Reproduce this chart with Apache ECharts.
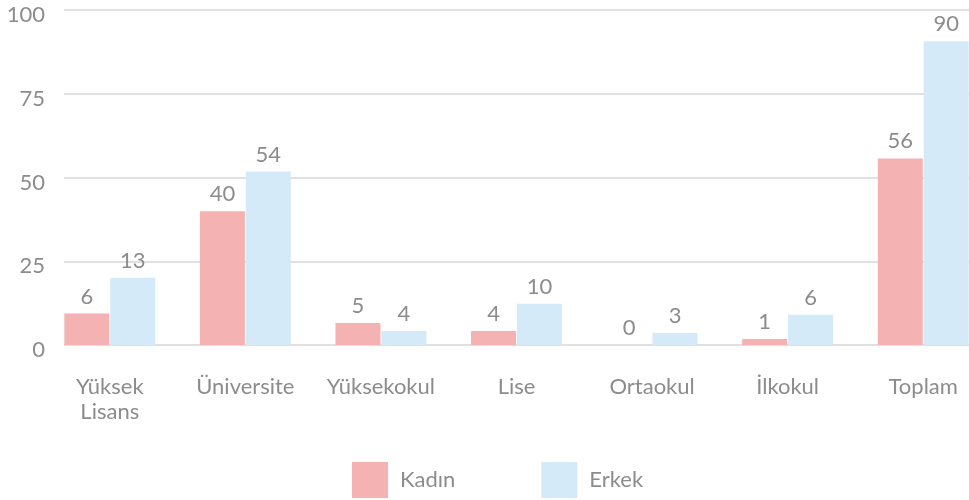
<!DOCTYPE html>
<html>
<head>
<meta charset="utf-8">
<script src="https://cdn.jsdelivr.net/npm/echarts@6/dist/echarts.min.js"></script>
<style>
  html, body { margin: 0; padding: 0; background: #fff; }
  #chart { width: 969px; height: 500px; }
</style>
</head>
<body>
<div id="chart"></div>
<script>
// kategoriler
const categories = ['Yüksek\nLisans', 'Üniversite', 'Yüksekokul', 'Lise', 'Ortaokul', 'İlkokul', 'Toplam'];
// bar yükseklikleri
const kadinBars = [9.4, 39.9, 6.6, 4.2, 0, 1.8, 55.7];
const erkekBars = [20.1, 51.8, 4.2, 12.3, 3.6, 9, 90.7];
// barların üstündeki etiketler
const kadinLabels = [6, 40, 5, 4, 0, 1, 56];
const erkekLabels = [13, 54, 4, 10, 3, 6, 90];
const yTicks = [0, 25, 50, 75, 100];

const font = 'Lato, "Open Sans", sans-serif';
const textColor = '#8c8c8c';

const myEcharts = echarts.init(document.getElementById('chart'));

const hiddenAxis = {
  axisLine: { show: false }, axisTick: { show: false },
  axisLabel: { show: false }, splitLine: { show: false }
};

const option = {
  animation: false,
  textStyle: { fontFamily: font },
  legend: {
    bottom: -3,
    left: 347,
    itemWidth: 36,
    itemHeight: 36,
    itemGap: 86,
    icon: 'rect',
    textStyle: { fontSize: 22, color: textColor, fontFamily: font, padding: [0, 0, 0, 7] },
    data: ['Kadın', 'Erkek']
  },
  grid: [
    // ızgara çizgileri
    { left: 64, right: 0, top: 10, bottom: 155 },
    // y etiketleri (biraz aşağıda)
    { left: 64, right: 0, top: 15, bottom: 150 },
    // barlar (sağda kesik)
    { left: 42, width: 949, top: 10, bottom: 155, outerBoundsMode: 'none' }
  ],
  xAxis: [
    Object.assign({ gridIndex: 0, type: 'value', min: 0, max: 1 }, hiddenAxis),
    Object.assign({ gridIndex: 1, type: 'value', min: 0, max: 1 }, hiddenAxis),
    {
      gridIndex: 2, type: 'category', data: categories,
      axisLine: { show: false }, axisTick: { show: false },
      axisLabel: {
        margin: 29, fontSize: 22, lineHeight: 25,
        color: textColor, fontFamily: font, interval: 0
      }
    }
  ],
  yAxis: [
    {
      gridIndex: 0, type: 'value', min: 0, max: 100, interval: 25,
      axisLine: { show: false }, axisTick: { show: false },
      axisLabel: { show: false },
      splitLine: { lineStyle: { color: '#d6d6d6', width: 1.5 } }
    },
    {
      gridIndex: 1, type: 'value', min: 0, max: 100, interval: 25,
      axisLine: { show: false }, axisTick: { show: false },
      splitLine: { show: false },
      axisLabel: {
        margin: 19, fontSize: 22, color: textColor, fontFamily: font,
        formatter: v => yTicks.includes(v) ? String(v) : ''
      }
    },
    Object.assign({ gridIndex: 2, type: 'value', min: 0, max: 100 }, hiddenAxis)
  ],
  series: [
    {
      name: 'Kadın', type: 'bar', xAxisIndex: 2, yAxisIndex: 2,
      data: kadinBars, barWidth: 45, barGap: '2%',
      itemStyle: { color: '#f4b2b2' },
      label: {
        show: true, position: 'top', distance: 6,
        fontSize: 22, color: textColor, fontFamily: font,
        formatter: p => kadinLabels[p.dataIndex]
      }
    },
    {
      name: 'Erkek', type: 'bar', xAxisIndex: 2, yAxisIndex: 2,
      data: erkekBars, barWidth: 45, barGap: '2%',
      itemStyle: { color: '#d4eaf8' },
      label: {
        show: true, position: 'top', distance: 6,
        fontSize: 22, color: textColor, fontFamily: font,
        formatter: p => erkekLabels[p.dataIndex]
      }
    }
  ]
};

myEcharts.setOption(option);
</script>
</body>
</html>
